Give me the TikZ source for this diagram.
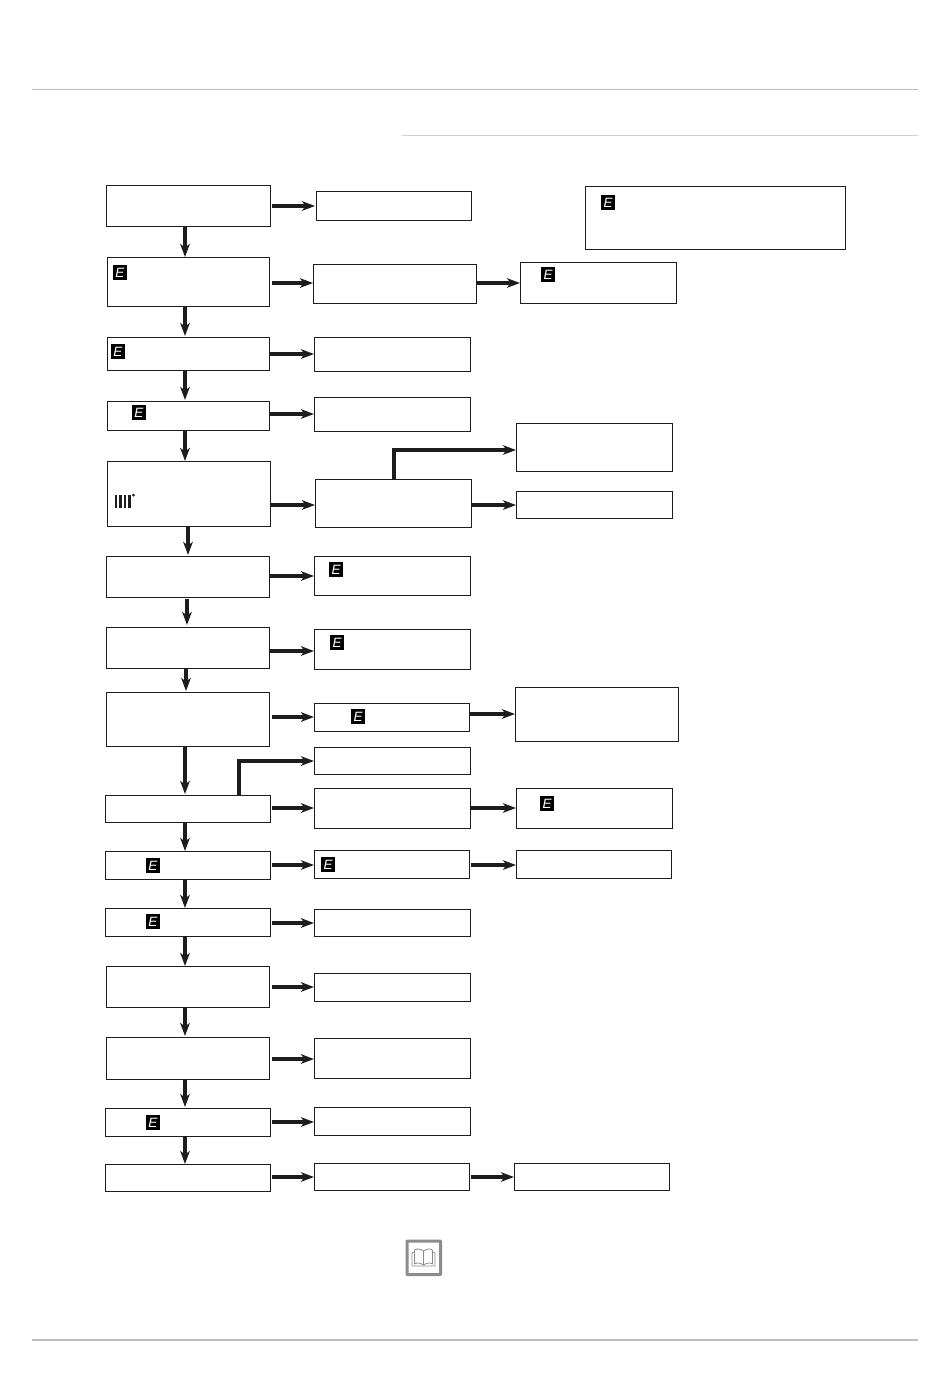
\documentclass[tikz,border=0pt]{standalone}
\usepackage{fontspec}
\setmainfont{Liberation Sans}
\usetikzlibrary{arrows.meta}
\definecolor{ink}{HTML}{1E1C1C}
\definecolor{rulegray}{HTML}{BDBDBD}
\definecolor{rulelight}{HTML}{CFCFCF}
\definecolor{bookgray}{HTML}{8C8C8C}
\tikzset{
  x=1pt,y=1pt,
  bx/.style={draw=ink,line width=1pt,fill=white,inner sep=0pt,outer sep=0pt},
  arr/.style={draw=ink,line width=3.2pt,-{Stealth[length=13pt,width=9.5pt,inset=3.5pt]}},
  elbow/.style={arr},
  eicon/.style={fill=black,inner sep=0pt,outer sep=0pt,minimum width=13.5pt,minimum height=15pt,text=white,
     font=\fontsize{13.5}{13.5}\selectfont\itshape,text height=10pt,text depth=0pt},
  hrule/.style={line width=1pt,draw=rulegray},
}
\newcommand{\bx}[5]{\node[bx,minimum width={#4-#2},minimum height={#5-#3}] (#1) at ({(#2+#4)/2},{-(#3+#5)/2}) {};}
\newcommand{\ax}[5]{\node[bx,minimum width={#4-#2},minimum height={#5-#3}] (#1) at ({(#2+#4)/2-0.4},{-(#3+#5)/2}) {};}
\newcommand{\ei}[3]{\node[eicon] (#1) at (#2,-#3) {E};}
% vertical: a, b, x
\newcommand{\va}[4][]{\draw[arr,#1] (#2.south -| #4,0) -- (#3.north -| #4,0);}
% horizontal: a, b, y
\newcommand{\ha}[4][]{\draw[arr,#1] (#2.east |- 0,-#4) -- (#3.west |- 0,-#4);}
\begin{document}
\begin{tikzpicture}
\useasboundingbox (0,0) rectangle (950,-1378);
\fill[white] (0,0) rectangle (950,-1378);
% page rules
\coordinate (r1a) at (32,-90); \coordinate (r1b) at (918,-90);
\coordinate (r2a) at (402,-135.5); \coordinate (r2b) at (918,-135.5);
\coordinate (r3a) at (32,-1340); \coordinate (r3b) at (918,-1340);
\draw[hrule] (r1a) -- (r1b);
\draw[hrule,draw=rulelight] (r2a) -- (r2b);
\draw[hrule,line width=2pt] (r3a) -- (r3b);
% boxes, left column
\ax{A1}{107}{185}{271}{226}
\ax{A2}{108}{257}{270}{306}
\ax{A3}{108}{337}{270}{370}
\ax{A4}{108}{401}{270}{430}
\ax{A5}{108}{461}{271}{526}
\ax{A6}{107}{556}{270}{597}
\ax{A7}{107}{627}{270}{668}
\ax{A8}{107}{692}{270}{746}
\ax{A9}{106}{795}{271}{822}
\ax{A10}{106}{851}{271}{879}
\ax{A11}{106}{908}{271}{936}
\ax{A12}{107}{966}{270}{1007}
\ax{A13}{107}{1037}{270}{1079}
\ax{A14}{106}{1108}{271}{1136}
\ax{A15}{106}{1164}{271}{1191}
% middle column
\bx{B1}{316}{191}{471}{220}
\bx{B2}{313}{264}{476}{303}
\bx{B3}{314}{337}{470}{371}
\bx{B4}{314}{397}{470}{431}
\bx{B5}{315}{479}{471}{527}
\bx{B6}{314}{556}{470}{595}
\bx{B7}{314}{629}{470}{669}
\bx{B8}{314}{703}{469}{731}
\bx{B9a}{314}{747}{470}{774}
\bx{B9b}{314}{788}{470}{828}
\bx{B10}{314}{850}{469}{878}
\bx{B11}{314}{909}{470}{936}
\bx{B12}{314}{973}{470}{1001}
\bx{B13}{314}{1038}{470}{1078}
\bx{B14}{314}{1107}{470}{1135}
\bx{B15}{314}{1163}{469}{1190}
% right column
\bx{N1}{585}{186}{845}{249}
\bx{C2}{520}{262}{676}{303}
\bx{C5a}{516}{423}{672}{471}
\bx{C5b}{516}{491}{672}{518}
\bx{C8}{515}{687}{678}{741}
\bx{C9}{516}{788}{672}{828}
\bx{C10}{516}{850}{671}{878}
\bx{C15}{514}{1163}{669}{1190}
% E icons
\ei{e1}{608}{202}
\ei{e2}{120}{272}
\ei{e3}{548}{274}
\ei{e4}{118}{351}
\ei{e5}{139}{412}
\ei{e6}{336}{569}
\ei{e7}{337}{642}
\ei{e8}{358}{716}
\ei{e9}{547}{803}
\ei{e10}{153}{865}
\ei{e11}{328}{864}
\ei{e12}{153}{921}
\ei{e13}{153}{1122}
% radiator icon
\foreach \xx in {116,120.5,125,129.5}
  \draw[ink,line width=2.8pt] (\xx,-495) -- (\xx,-507.5);
\fill[ink] (133.5,-495) circle (1.5pt);
% vertical arrows
\va[shorten <=1pt]{A1}{A2}{185}
\va[shorten >=1pt]{A2}{A3}{185}
\va[shorten >=1pt]{A3}{A4}{185}
\va{A4}{A5}{185}
\va[shorten >=1pt]{A5}{A6}{188}
\va[shorten <=2pt,shorten >=2pt]{A6}{A7}{187}
\va[shorten >=1pt]{A7}{A8}{186}
\va[shorten >=1pt]{A8}{A9}{185}
\va[shorten <=1pt]{A9}{A10}{185}
\va[shorten <=1pt]{A10}{A11}{185}
\va[shorten <=1pt]{A11}{A12}{185}
\va[shorten <=1pt,shorten >=1pt]{A12}{A13}{185}
\va[shorten <=1pt,shorten >=1pt]{A13}{A14}{185}
\va[shorten <=1pt]{A14}{A15}{185}
% horizontal arrows
\ha[shorten <=1pt,shorten >=1pt]{A1}{B1}{206}
\ha[shorten <=2pt]{A2}{B2}{283}
\ha[shorten <=1pt]{B2}{C2}{283}
\ha{A3}{B3}{354}
\ha{A4}{B4}{414}
\ha{A5}{B5}{505}
\ha[shorten <=1pt]{B5}{C5b}{505}
\ha{A6}{B6}{576}
\ha{A7}{B7}{651}
\ha[shorten <=2pt]{A8}{B8}{717}
\ha[shorten <=1pt]{B8}{C8}{714}
\ha[shorten <=1pt]{A9}{B9b}{808}
\ha[shorten <=1pt]{B9b}{C9}{808}
\ha[shorten <=1pt]{A10}{B10}{865}
\ha[shorten <=2pt]{B10}{C10}{865}
\ha[shorten <=1pt]{A11}{B11}{923}
\ha[shorten <=2pt]{A12}{B12}{987}
\ha[shorten <=2pt]{A13}{B13}{1059}
\ha[shorten <=1pt]{A14}{B14}{1122}
\ha[shorten <=1pt]{A15}{B15}{1177}
\ha[shorten <=2pt]{B15}{C15}{1177}
% elbows
\draw[elbow] (B5.north -| 394,0) |- (C5a.west |- 0,-450);
\draw[elbow] (A9.north -| 239,0) |- (B9a.west |- 0,-761);
% book icon
\draw[bookgray,line width=3pt,rounded corners=0.5pt] (407,-1241) rectangle (440.5,-1274.5);
\begin{scope}[draw=bookgray,line width=0.8pt,line join=round]
  \draw (423.5,-1251) .. controls (420,-1248.5) and (416.5,-1248.5) .. (414.5,-1250) -- (414.5,-1264) .. controls (416.5,-1262.5) and (420,-1262.5) .. (423.5,-1265);
  \draw (423.5,-1251) .. controls (427,-1248.5) and (430.5,-1248.5) .. (432.5,-1250) -- (432.5,-1264) .. controls (430.5,-1262.5) and (427,-1262.5) .. (423.5,-1265);
  \draw (423.5,-1251) -- (423.5,-1265);
  \draw (414.5,-1252) -- (412,-1253) -- (412,-1266) -- (435,-1266) -- (435,-1253) -- (432.5,-1252);
\end{scope}
\end{tikzpicture}
\end{document}
